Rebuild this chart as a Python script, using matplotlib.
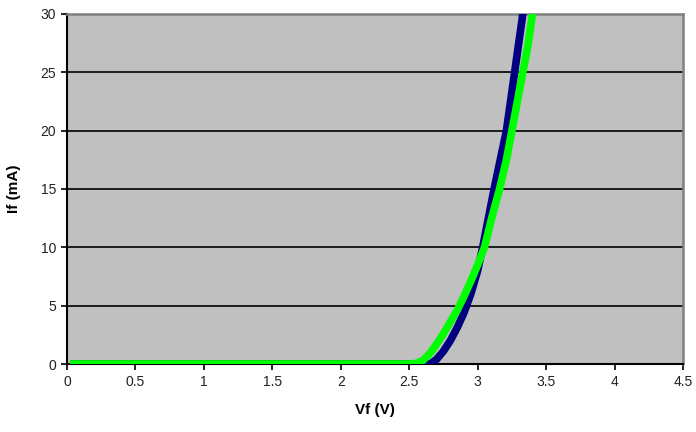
import matplotlib.pyplot as plt

plt.rcParams['font.family'] = ['Liberation Sans', 'DejaVu Sans']

# forward voltage (V) vs forward current (mA)
green_vf = [0.05, 2.50, 2.55, 2.60, 2.65, 2.70, 2.75, 2.80, 2.85, 2.90, 2.95, 3.00,
            3.05, 3.10, 3.16, 3.21, 3.25, 3.29, 3.33, 3.37, 3.40]
green_if = [0.0, 0.0, 0.05, 0.3, 0.9, 1.7, 2.6, 3.6, 4.6, 5.8, 7.1, 8.5,
            10.0, 12.4, 15.0, 17.5, 20.0, 22.5, 25.0, 27.5, 30.0]

blue_vf = [0.05, 2.62, 2.66, 2.70, 2.75, 2.80, 2.85, 2.90, 2.95, 3.00, 3.04,
           3.08, 3.12, 3.165, 3.21, 3.24, 3.27, 3.30, 3.33]
blue_if = [0.0, 0.0, 0.05, 0.4, 1.1, 2.0, 3.1, 4.4, 6.0, 8.0, 10.2,
           12.6, 15.0, 17.5, 20.0, 22.5, 25.0, 27.5, 30.0]

x_ticks = [0, 0.5, 1, 1.5, 2, 2.5, 3, 3.5, 4, 4.5]
y_ticks = [0, 5, 10, 15, 20, 25, 30]

fig = plt.figure(figsize=(6.96, 4.32), dpi=100)
ax = fig.add_axes([67 / 696, 1 - 364 / 432, 616 / 696, 350 / 432])
ax.set_facecolor('#c0c0c0')

for y in y_ticks[1:]:
    ax.axhline(y, color='black', lw=1.2, zorder=1)

ax.plot(blue_vf, blue_if, color='#000080', lw=5.5, zorder=3)
ax.plot(green_vf, green_if, color='#00ff00', lw=5.5, zorder=4)

ax.set_xlim(0, 4.5)
ax.set_ylim(0, 30)
ax.set_xticks(x_ticks)
ax.set_xticklabels(['0', '0.5', '1', '1.5', '2', '2.5', '3', '3.5', '4', '4.5'])
ax.set_yticks(y_ticks)

for s in ['left', 'bottom']:
    ax.spines[s].set_color('black')
    ax.spines[s].set_linewidth(1.5)
for s in ['top', 'right']:
    ax.spines[s].set_color('#808080')
    ax.spines[s].set_linewidth(1.8)

ax.tick_params(direction='out', length=4, width=1.2, colors='black',
               labelsize=10, labelcolor='#222222', pad=4)

ax.set_xlabel('Vf (V)', fontsize=11, fontweight='bold', labelpad=10)
ax.set_ylabel('If (mA)', fontsize=11, fontweight='bold', labelpad=14)

fig.savefig('out.png', dpi=100)
